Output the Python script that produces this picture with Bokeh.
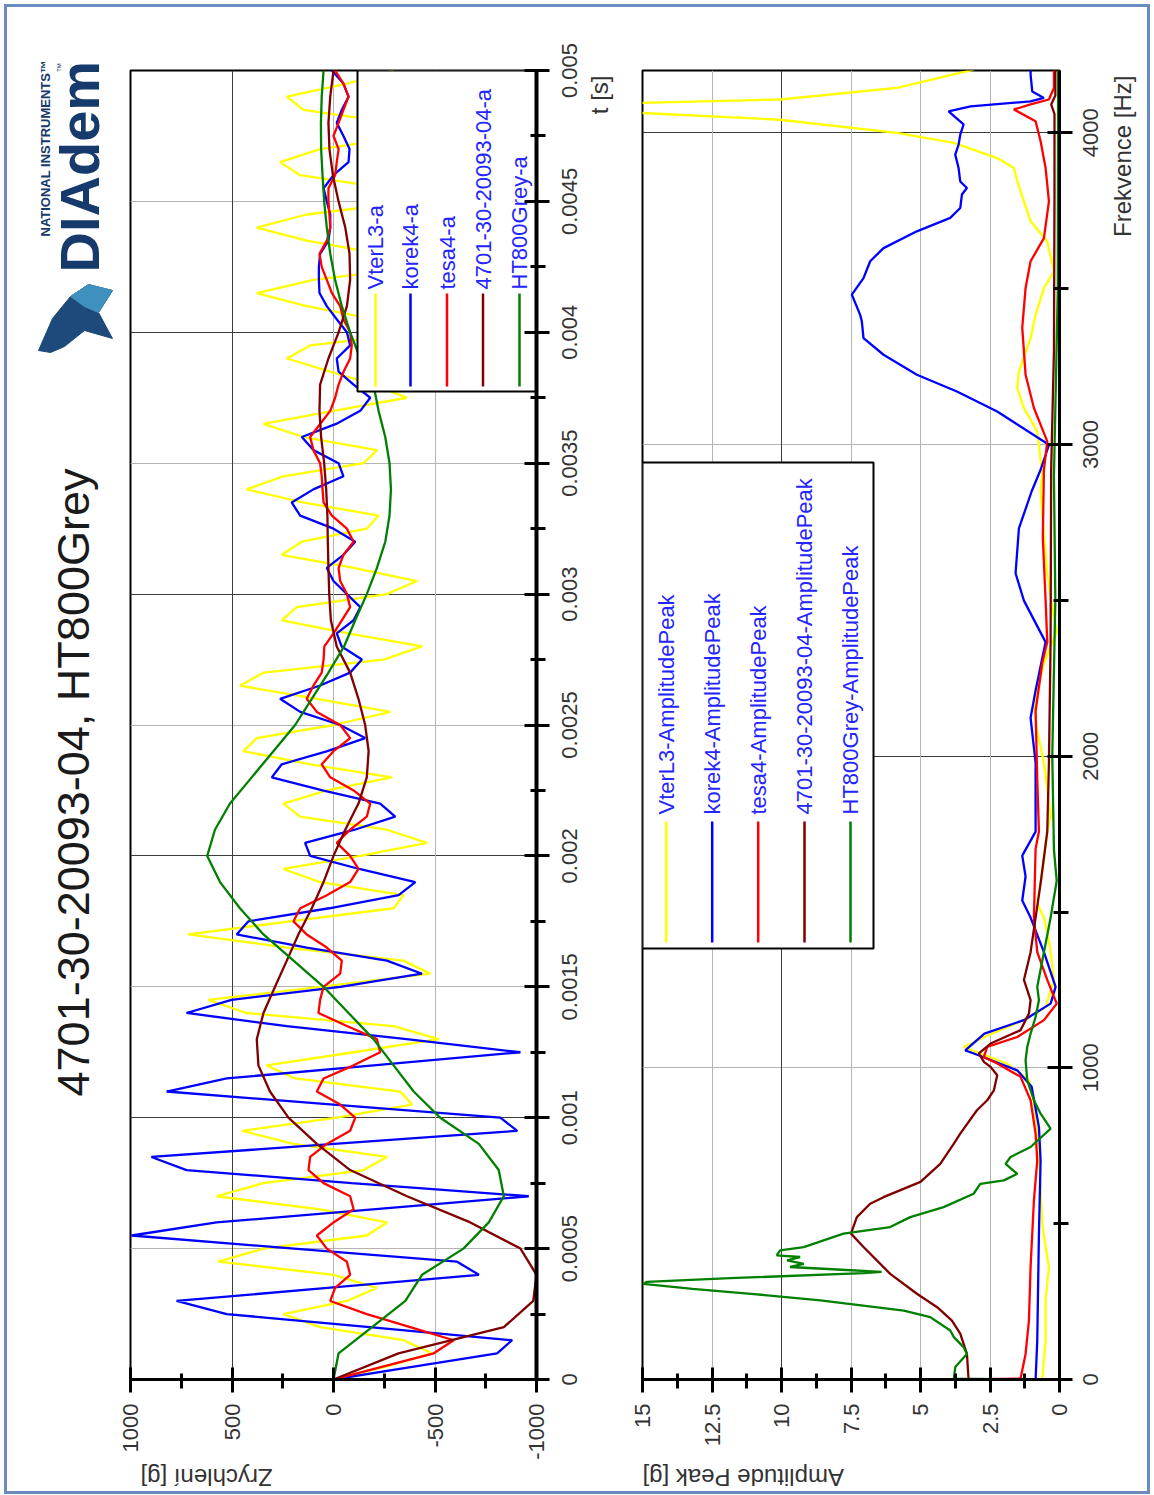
import math
from bokeh.plotting import figure
from bokeh.models import Range1d, SingleIntervalTicker, CustomJSTickFormatter, Grid, FixedTicker
from bokeh.layouts import row, column
from bokeh.embed import file_html
from bokeh.resources import INLINE
from bokeh.core.properties import value

FONT = "Liberation Sans"
TICK_COLOR = "#333333"
LEGEND_TEXT = "#2424ff"
COLORS = ["#ffff00", "#0000ff", "#ff0000", "#800000", "#008000"]

# ---------------- time-domain data ----------------
T_STEP = 0.00005          # sample spacing of the three jagged channels
VTERL3_A = [0, -263, -485, -345, 66, 247, -66, -214, 0, 567,
            345, -164, -263, 66, 576, 345, -148, -263, 197, 452,
            -16, -387, -329, 189, 329, -99, -518, -296, 430, 617,
            66, -477, -345, 230, 716, 214, -296, -345, 66, 247,
            -132, -461, -263, 164, 247, 33, -288, 115, 444, 378,
            0, -280, 82, 461, 345, -247, -436, -72, 255, 181,
            -263, -411, -99, 255, 156, -164, -222, 151, 428, 247,
            -148, -214, 148, 345, 0, -362, -197, 16, 230, 115,
            -428, -197, 132, 378, 99, -428, -230, 132, 378, 132,
            -395, -263, 164, 263, 66, -378, -296, 148, 230, -66,
            -296]
KOREK4_A = [0, -403, -806, -880, -178, 526, 773, 30, -716, -609,
            194, 995, 576, -193, -962, -90, 724, 897, -3, -905,
            -822, 0, 822, 526, -197, -921, -360, 230, 724, 502,
            -33, -436, -263, 132, 477, 419, 21, -321, -403, -127,
            115, 140, -104, -304, -230, 54, 304, 255, 30, -156,
            -33, 164, 263, 69, -82, -140, -40, -16, -99, -132,
            -66, 0, 33, -49, -107, 0, 164, 206, 99, -49,
            -25, 99, 156, -13, -132, -181, -99, -25, -16, -82,
            -66, -16, 33, 69, 72, 72, 66, 25, 16, 16,
            33, 49, 0, -74, -79, -49, -16, -41, -74, -49,
            8]
TESA4_A = [0, -247, -494, -592, -378, -164, 16, -8, -82, -66,
           33, 82, 0, -99, -82, 49, 123, 115, 33, -82,
           -107, -33, 82, 49, -99, -230, -214, -66, 74, 66,
           49, -33, -41, 33, 132, 197, 164, 33, -82, -123,
           -82, -16, -82, -164, -181, -99, 16, 58, 0, -82,
           -33, 82, 132, 99, 58, 49, 45, 0, -41, -82,
           -66, -33, -25, -49, -99, -66, 8, 49, 54, 58,
           66, 99, 115, 66, 16, -8, -25, -50, -82, -90,
           -82, -49, -33, 8, 33, 58, 69, 33, 16, 20,
           25, 25, -8, -16, -25, 0, -25, -49, -74, -49,
           -8]
T_STEP_SMOOTH = 0.0001    # read-off spacing of the two smooth channels
A4701_A = [0, -320, -839, -984, -1000, -921, -674, -362, -82, 82,
           222, 313, 370, 378, 345, 288, 230, 173, 107, 49,
           0, -58, -123, -164, -173, -156, -123, -82, -16, 13,
           21, 25, 28, 30, 36, 46, 61, 69, 66, 25,
           -25, -66, -82, -79, -58, -25, 3, 20, 25, 16,
           0]
HT800GREY_A = [0, -25, -190, -354, -436, -640, -765, -839, -814, -716,
               -526, -395, -296, -197, -74, 49, 197, 345, 461, 559,
               622, 584, 510, 403, 296, 189, 107, 25, -52, -107,
               -164, -214, -255, -276, -283, -276, -255, -222, -197, -132,
               -82, -41, -8, 16, 33, 46, 54, 61, 62, 58,
               49]
TIME_NAMES = ["VterL3-a", "korek4-a", "tesa4-a", "4701-30-20093-04-a", "HT800Grey-a"]
TIME_TICKS = [0, 0.0005, 0.001, 0.0015, 0.002, 0.0025, 0.003, 0.0035, 0.004, 0.0045, 0.005]
TIME_TICK_LABELS = ["0", "0.0005", "0.001", "0.0015", "0.002", "0.0025", "0.003", "0.0035", "0.004", "0.0045", "0.005"]

# ---------------- spectra ----------------
VTERL3_F = [0, 125, 254, 361, 425, 500, 650, 789, 896, 960, 1014, 1067, 1099, 1153, 1194, 1282, 1393, 1482, 1526, 1640,
            1758, 1813, 1900, 1979, 2080, 2166, 2299, 2399, 2500, 2587, 2700, 2853, 2903, 3042, 3117, 3181, 3234, 3341, 3416, 3502,
            3556, 3652, 3716, 3845, 3887, 3919, 3968, 4000, 4042, 4064, 4080, 4096, 4107, 4144, 4203]
VTERL3_P = [0.62, 0.5, 0.5, 0.38, 0.5, 0.62, 0.7, 0.8, 0.93, 1.1, 1.9, 3.45, 2.7, 1.3, 0.5, 0.2, 0.35, 0.56, 0.8, 0.6,
            0.44, 0.32, 0.45, 0.56, 0.8, 0.92, 0.56, 0.1, 0.3, 0.44, 0.55, 0.68, 0.62, 0.8, 1.28, 1.52, 1.46, 1.04, 0.86, 0.56,
            0.2, 0.44, 1.04, 1.52, 1.64, 2.24, 3.8, 5.85, 10.05, 15.1, 20.0, 15.1, 10.05, 5.85, 3.08]
KOREK4_F = [0, 125, 468, 703, 810, 939, 992, 1046, 1056, 1110, 1153, 1206, 1260, 1371, 1482, 1537, 1614, 1681, 1758, 1979,
            2123, 2211, 2366, 2499, 2587, 2731, 2850, 2919, 2999, 3106, 3170, 3224, 3288, 3341, 3395, 3416, 3481, 3534, 3588, 3630,
            3684, 3727, 3759, 3802, 3823, 3844, 3887, 3930, 3962, 3994, 4027, 4069, 4085, 4101, 4112, 4133, 4187, 4203]
KOREK4_P = [0.86, 0.8, 0.74, 0.68, 0.74, 1.0, 1.52, 3.08, 3.39, 2.7, 1.28, 0.32, 0.14, 0.56, 1.04, 1.34, 1.22, 1.34, 0.86, 0.86,
            1.04, 0.86, 0.5, 1.28, 1.58, 1.46, 1.0, 0.68, 0.38, 2.24, 3.69, 5.13, 6.33, 7.05, 7.11, 7.17, 7.47, 7.05, 6.81, 6.33,
            5.13, 3.93, 3.57, 3.51, 3.33, 3.57, 3.63, 3.75, 3.63, 3.57, 3.45, 3.99, 3.2, 1.04, 0.56, 0.98, 1.04, 1.04]
TESA4_F = [0, 3, 82, 189, 361, 575, 703, 789, 896, 971, 1014, 1035, 1067, 1099, 1153, 1206, 1282, 1371, 1482, 1703,
           1758, 1924, 2145, 2299, 2366, 2500, 2700, 2919, 3010, 3117, 3224, 3374, 3502, 3588, 3662, 3780, 3887, 3973, 4037, 4075,
           4091, 4107, 4144, 4203]
TESA4_P = [3.2, 1.4, 1.22, 1.1, 1.04, 0.92, 0.8, 0.86, 1.04, 1.4, 2.24, 2.72, 2.6, 1.52, 0.56, 0.1, 0.44, 0.8, 0.92, 0.86,
           0.74, 0.8, 0.86, 0.62, 0.44, 0.5, 0.6, 0.56, 0.44, 0.92, 1.22, 1.34, 1.22, 1.04, 0.56, 0.38, 0.5, 0.68, 0.86, 1.64,
           1.04, 0.38, 0.2, 0.2]
A4701_F = [0, 82, 147, 189, 232, 275, 339, 425, 468, 521, 564, 585, 634, 692, 757, 789, 864, 896, 928, 976,
           1003, 1019, 1046, 1078, 1121, 1174, 1217, 1282, 1371, 1592, 1758, 1979, 2366, 2919, 3300, 3800, 4060, 4091, 4120, 4203]
A4701_P = [3.27, 3.33, 3.57, 3.87, 4.4, 5.13, 6.09, 7.05, 7.5, 7.29, 6.81, 6.33, 5.0, 4.29, 3.8, 3.57, 2.97, 2.6, 2.36, 2.24,
           2.48, 2.72, 2.9, 2.48, 1.4, 1.1, 1.04, 1.28, 1.04, 0.68, 0.44, 0.38, 0.32, 0.3, 0.2, 0.18, 0.18, 0.3, 0.15, 0.15]
HT800GREY_F = [0, 3, 40, 82, 104, 136, 157, 200, 221, 254, 275, 291, 307, 313, 325, 341, 345, 353, 361, 371,
               382, 393, 398, 414, 425, 468, 489, 521, 553, 596, 628, 639, 660, 692, 714, 746, 805, 853, 896, 960,
               1024, 1067, 1110, 1163, 1217, 1260, 1371, 1482, 1600, 1700, 2000, 2500, 2900, 3500, 4203]
HT800GREY_P = [1.2, 3.8, 3.75, 3.33, 3.45, 3.8, 3.93, 4.65, 5.6, 8.6, 11.1, 13.2, 14.97, 14.85, 11.85, 7.05, 6.4, 8.0, 9.69, 9.2,
               9.8, 9.33, 10.17, 10.05, 9.2, 7.77, 6.09, 5.37, 4.17, 3.09, 2.85, 2.0, 1.52, 1.94, 1.76, 1.04, 0.32, 0.68, 0.92, 1.16,
               1.22, 1.16, 1.04, 0.86, 0.74, 0.8, 0.56, 0.32, 0.1, 0.2, 0.26, 0.15, 0.2, 0.06, 0.05]
FREQ_NAMES = ["VterL3-AmplitudePeak", "korek4-AmplitudePeak", "tesa4-AmplitudePeak",
              "4701-30-20093-04-AmplitudePeak", "HT800Grey-AmplitudePeak"]
FREQ_TICKS = [0, 1000, 2000, 3000, 4000]
FREQ_TICK_LABELS = ["0", "1000", "2000", "3000", "4000"]

# ---------------- page geometry (page pixels) ----------------
OX, OY = 7, 7                      # top-left of the framed report
X_TITLE, X_TIME, X_TSTRIP, X_FREQ, X_FSTRIP, X_END = 7, 114, 550, 615, 1073, 1147
Y_ROW_END, Y_END = 1462, 1491
HROW = Y_ROW_END - OY
FRAME_TOP, FRAME_BOT = 70, 1379
TOP = FRAME_TOP - OY
FRAME_H = FRAME_BOT - FRAME_TOP
BOTTOM = HROW - TOP - FRAME_H
T_X0, T_X1 = 130, 536
F_X0, F_X1 = 642, 1059

TIME_XR = (1000, -1000)
TIME_YR = (0, 0.005)
FREQ_XR = (15, 0)
FREQ_YR = (0, 4200)


def tx(px):
    return TIME_XR[0] + (px - T_X0) / (T_X1 - T_X0) * (TIME_XR[1] - TIME_XR[0])


def ty(py):
    return TIME_YR[1] - (py - FRAME_TOP) / FRAME_H * (TIME_YR[1] - TIME_YR[0])


def fx(px):
    return FREQ_XR[0] + (px - F_X0) / (F_X1 - F_X0) * (FREQ_XR[1] - FREQ_XR[0])


def fy(py):
    return FREQ_YR[1] - (py - FRAME_TOP) / FRAME_H * (FREQ_YR[1] - FREQ_YR[0])


def no_align(p):
    if "frame_align" in p.properties():
        p.frame_align = False


def chart(x_start, x_end, frame_x0, frame_x1, xr, yr, xtick, ytick, xfmt):
    width = x_end - x_start
    p = figure(width=width, height=HROW, x_range=Range1d(*xr), y_range=Range1d(*yr),
               x_axis_location="below", y_axis_location="right",
               toolbar_location=None, output_backend="svg",
               min_border_left=frame_x0 - x_start, min_border_right=x_end - frame_x1,
               min_border_top=TOP, min_border_bottom=BOTTOM,
               outline_line_color="black", outline_line_width=2,
               background_fill_color="white", border_fill_color="white")
    no_align(p)
    p.xgrid.visible = False
    p.ygrid.visible = False
    xa, ya = p.xaxis[0], p.yaxis[0]
    xa.ticker = SingleIntervalTicker(interval=xtick, num_minor_ticks=2)
    ya.ticker = SingleIntervalTicker(interval=ytick, num_minor_ticks=2)
    xa.formatter = CustomJSTickFormatter(code=xfmt)
    ya.formatter = CustomJSTickFormatter(code="return ''")
    for ax in (xa, ya):
        ax.axis_line_color = "black"
        ax.axis_line_width = 3
        ax.major_tick_line_color = "black"
        ax.minor_tick_line_color = "black"
        ax.major_tick_line_width = 3
        ax.minor_tick_line_width = 3
        ax.major_tick_in = 12
        ax.major_tick_out = 13
        ax.minor_tick_in = 6
        ax.minor_tick_out = 9
    xa.major_label_text_font = FONT
    xa.major_label_text_font_size = "22px"
    xa.major_label_text_color = TICK_COLOR
    xa.major_label_orientation = math.pi / 2
    xa.major_label_standoff = 11
    ya.major_label_standoff = 0
    ya.major_label_text_font_size = "0px"
    return p


def plain(x_start, x_end, y_start_data, y_end_data, height):
    s = figure(frame_width=x_end - x_start, frame_height=height,
               x_range=Range1d(x_start, x_end), y_range=Range1d(y_start_data, y_end_data),
               toolbar_location=None, output_backend="svg", x_axis_location=None, y_axis_location=None,
               min_border=0, outline_line_color=None, background_fill_color="white", border_fill_color="white")
    no_align(s)
    s.grid.visible = False
    return s


def add_grid(p, dim, ticks, color):
    p.add_layout(Grid(dimension=dim, ticker=FixedTicker(ticks=ticks),
                      grid_line_color=color, grid_line_width=1))


def legend(p, xconv, yconv, box, cols, line_y, text_y, names):
    p.quad(left=xconv(box[0]), right=xconv(box[1]), top=yconv(box[2]), bottom=yconv(box[3]),
           fill_color="white", line_color="black", line_width=2)
    xs = [xconv(c) for c in cols]
    p.segment(x0=xs, y0=[yconv(line_y[0])] * 5, x1=xs, y1=[yconv(line_y[1])] * 5,
              line_color=COLORS, line_width=2.5)
    p.text(x=xs, y=[yconv(text_y)] * 5, text=names, angle=math.pi / 2,
           text_align="left", text_baseline="middle", text_font=value(FONT),
           text_font_size="22px", text_color=LEGEND_TEXT)


def vtext(p, x, y, texts, size, align, angle=math.pi / 2, color=TICK_COLOR, style="normal"):
    p.text(x=x, y=y, text=texts, angle=angle, text_align=align, text_baseline="middle",
           text_font=value(FONT), text_font_size=size, text_color=color, text_font_style=style)


# ---------------- time chart ----------------
pt = chart(X_TIME, X_TSTRIP, T_X0, T_X1, TIME_XR, TIME_YR, 500, 0.0005,
           "return String(Math.round(tick))")
pt.yaxis[0].axis_line_width = 4
add_grid(pt, 1, [0.0005, 0.0015, 0.0025, 0.0035, 0.0045], "#b4b4b4")
add_grid(pt, 1, [0.001, 0.002, 0.003, 0.004], "#3c3c3c")
add_grid(pt, 0, [0, -500], "#b4b4b4")
add_grid(pt, 0, [500], "#3c3c3c")

fast_t = [i * T_STEP for i in range(len(VTERL3_A))]
slow_t = [i * T_STEP_SMOOTH for i in range(len(A4701_A))]
for vals, tt, c in [(VTERL3_A, fast_t, COLORS[0]), (KOREK4_A, fast_t, COLORS[1]),
                    (TESA4_A, fast_t, COLORS[2]), (A4701_A, slow_t, COLORS[3]),
                    (HT800GREY_A, slow_t, COLORS[4])]:
    pt.line(x=vals, y=tt, line_color=c, line_width=2.3)

legend(pt, tx, ty, (357, 536, 70, 391), [375, 410, 446.5, 482.5, 519], (293, 386), 289, TIME_NAMES)

# time tick labels + axis title strip (same vertical scale as the time chart)
ps1 = plain(X_TSTRIP, X_FREQ, ty(Y_ROW_END), ty(OY), HROW)
vtext(ps1, [569] * len(TIME_TICKS), TIME_TICKS, TIME_TICK_LABELS, "22px", "center")
vtext(ps1, [599], [ty(75)], ["t [s]"], "24px", "right")

# ---------------- spectrum chart ----------------
pf = chart(X_FREQ, X_FSTRIP, F_X0, F_X1, FREQ_XR, FREQ_YR, 2.5, 1000, "return String(tick)")
add_grid(pf, 1, [1000, 3000], "#b4b4b4")
add_grid(pf, 1, [2000, 4000], "#3c3c3c")
add_grid(pf, 0, [12.5, 7.5, 5, 2.5], "#b4b4b4")
add_grid(pf, 0, [10], "#3c3c3c")

for fr, amp, c in [(VTERL3_F, VTERL3_P, COLORS[0]), (KOREK4_F, KOREK4_P, COLORS[1]),
                   (TESA4_F, TESA4_P, COLORS[2]), (A4701_F, A4701_P, COLORS[3]),
                   (HT800GREY_F, HT800GREY_P, COLORS[4])]:
    pf.line(x=amp, y=fr, line_color=c, line_width=2.3)

legend(pf, fx, fy, (642, 873, 462, 948), [665.7, 711.7, 757.7, 804, 850], (821, 942), 814, FREQ_NAMES)

ps2 = plain(X_FSTRIP, X_END, fy(Y_ROW_END), fy(OY), HROW)
vtext(ps2, [1090] * len(FREQ_TICKS), FREQ_TICKS, FREQ_TICK_LABELS, "22px", "center")
vtext(ps2, [1122], [fy(75)], ["Frekvence [Hz]"], "24px", "right")

# ---------------- title / logo strip (y data = -page y) ----------------
ph = plain(X_TITLE, X_TIME, -Y_ROW_END, -OY, HROW)
vtext(ph, [73], [-782], ["4701-30-20093-04, HT800Grey"], "45px", "center", color="#1a1a1a")
ph.patch(x=[38, 52, 70, 88, 112, 98, 112, 84, 64, 50],
         y=[-350, -318, -296, -284, -290, -312, -338, -330, -346, -352],
         fill_color="#1d4a7a", line_color="#1d4a7a")
ph.patch(x=[70, 88, 112, 98, 84], y=[-296, -284, -290, -312, -306],
         fill_color="#3f8fbf", line_color="#3f8fbf")
vtext(ph, [79], [-272], ["DIAdem"], "56px", "left", color="#163a6b", style="bold")
vtext(ph, [60], [-62], ["™"], "10px", "right", color="#163a6b")
vtext(ph, [45], [-236], ["NATIONAL INSTRUMENTS™"], "13px", "left", color="#163a6b", style="bold")

# ---------------- bottom strip with the (upside-down) value-axis titles ----------------
pb = plain(OX, X_END, -Y_END, -Y_ROW_END, Y_END - Y_ROW_END)
vtext(pb, [140, 642], [-1477, -1477], ["Zrychlení [g]", "Amplitude Peak [g]"], "24px", "right", angle=math.pi)

layout = column(row(ph, pt, ps1, pf, ps2), pb,
                styles={"margin": "7px 0 0 7px", "outline": "3px solid #6a8cc0"})
open("out.html", "w").write(file_html(layout, INLINE))
